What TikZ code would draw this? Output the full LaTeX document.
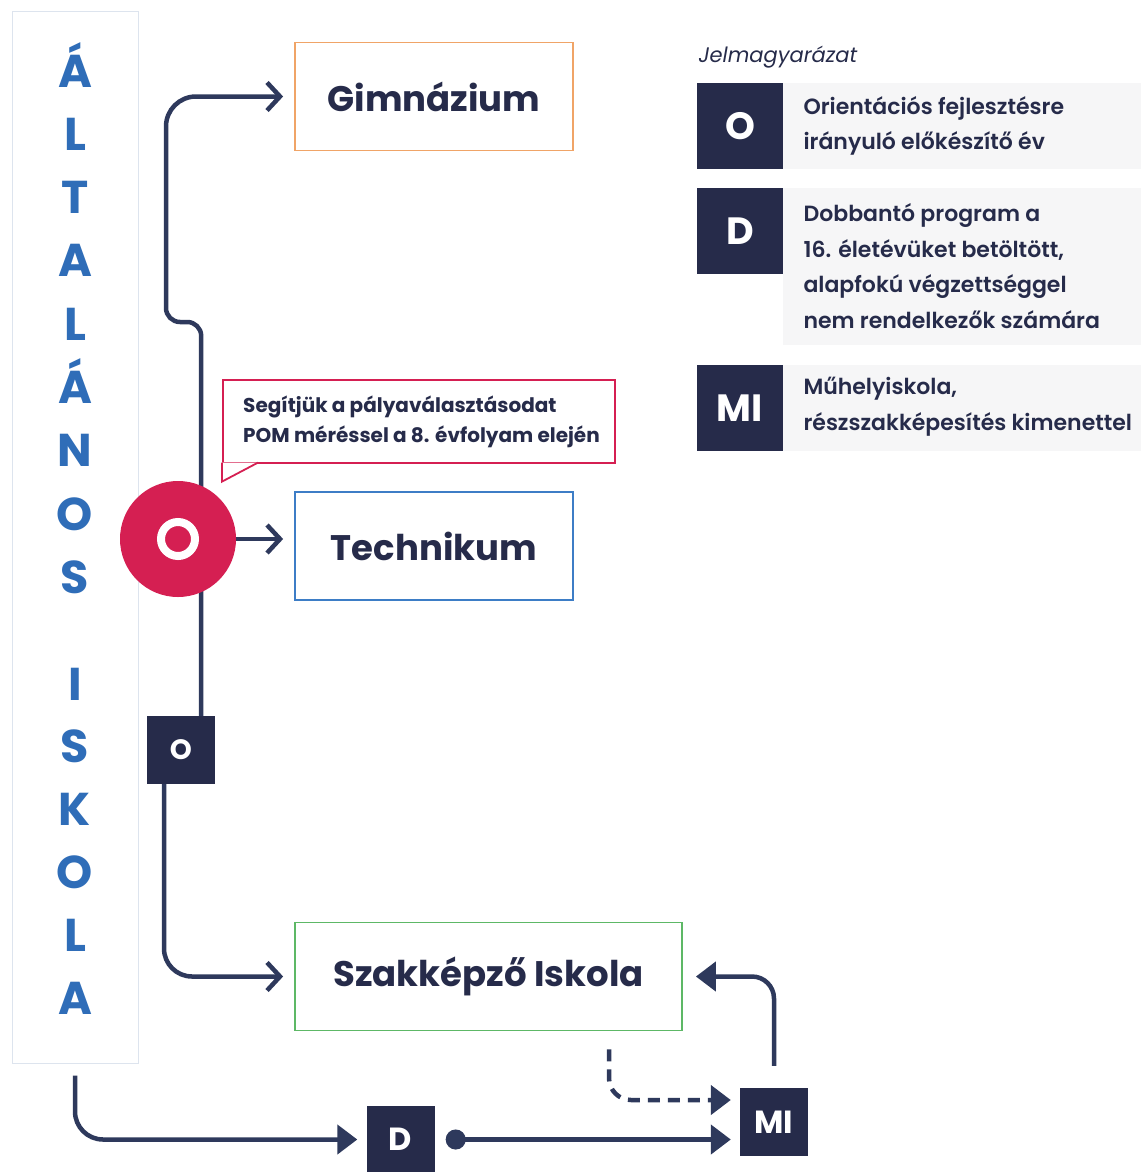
\documentclass[tikz,border=0pt]{standalone}
\usepackage{fontspec}
\setmainfont{Poppins}
\newfontfamily\semifont{Poppins}[UprightFont=* SemiBold, ItalicFont=* Italic]
\usetikzlibrary{arrows.meta,positioning}
\pgfdeclarelayer{background}
\pgfsetlayers{background,main}

\definecolor{navy}{HTML}{262B4A}
\definecolor{linenavy}{HTML}{2E395C}
\definecolor{letterblue}{HTML}{2F6DB8}
\definecolor{pomred}{HTML}{D51F52}
\definecolor{gimorange}{HTML}{F0A467}
\definecolor{techblue}{HTML}{3D7DC6}
\definecolor{szakgreen}{HTML}{5DB866}
\definecolor{panelgray}{HTML}{F6F6F7}
\definecolor{boxline}{HTML}{DDE4EE}

\begin{document}
\begin{tikzpicture}[x=1pt,y=-1pt,
    school/.style={draw,line width=1.8pt,fill=white,minimum height=108pt,
      text=navy,font=\fontsize{35.5}{40}\selectfont\bfseries},
    sqbox/.style={fill=navy,text=white,minimum size=68pt,inner sep=0pt,
      font=\fontsize{32}{36}\selectfont\bfseries},
    legbox/.style={sqbox,minimum size=86pt,font=\fontsize{38}{40}\selectfont\bfseries},
    legtext/.style={anchor=west,align=left,text=navy,
      font=\semifont\fontsize{22}{35.7}\selectfont},
    panel/.style={fill=panelgray,anchor=west,minimum height=86pt,
      minimum width=358pt,inner sep=0pt},
    letter/.style={anchor=base,text=letterblue,font=\fontsize{46}{46}\selectfont\bfseries},
    flow/.style={draw=linenavy,line width=4.5pt},
    barb/.style={-{Straight Barb[length=13pt,width=28pt,line width=4.5pt]}},
    tri/.style={-{Triangle[length=20pt,width=29pt]}}]
  \useasboundingbox (0,0) rectangle (1141,1172);

  % left column
  \node[draw=boxline,line width=1pt,fill=white,minimum width=126pt,
    minimum height=1051pt,inner sep=0pt] (elem) at (75,537.5) {};
  \foreach \l [count=\n from 0] in {Á,L,T,A,L,Á,N,O,S}
    \node[letter] (top\n) at (75,87+63.3*\n) {\l};
  \foreach \l [count=\n from 0] in {I,S,K,O,L,A}
    \node[letter] (bot\n) at (75,700+62.8*\n) {\l};

  % schools
  \node[school,draw=gimorange,minimum width=278pt] (gimn) at (434,96.5) {Gimnázium};
  \node[school,draw=techblue,minimum width=278pt] (tech) at (434,546) {Technikum};
  \node[school,draw=szakgreen,minimum width=387pt] (szak) at (488.5,976.5) {Szakképző Iskola};

  % POM note
  \node[draw=pomred,line width=1.8pt,fill=white,anchor=north west,
    minimum width=392pt,minimum height=83pt] (note) at (222,379) {};
  \node[anchor=west,align=left,inner sep=0pt,text=navy,
    font=\fontsize{20}{30}\selectfont\bfseries] (notetext) at ([xshift=21pt]note.west)
    {Segítjük a pályaválasztásodat\\POM méréssel a 8. évfolyam elején};
  \draw[pomred,line width=1.8pt,fill=white] ([yshift=1.2pt]note.south west)
    -- ++(0,19) -- ([xshift=36pt,yshift=1.2pt]note.south west);

  \node[circle,fill=pomred,minimum size=116pt,inner sep=0pt] (pom) at (178,539) {};
  \node[circle,draw=white,line width=8pt,minimum size=34pt,inner sep=0pt] (pomring) at (pom) {};

  % markers on the paths
  \node[sqbox,font=\fontsize{28}{30}\selectfont\bfseries] (osq) at (181,750) {O};
  \node[sqbox] (dsq) at (400.5,1139.5) {D};
  \node[sqbox] (misq) at (774,1122) {MI};

  % legend
  \node[anchor=west,text=navy,font=\semifont\itshape\fontsize{21}{23}\selectfont]
    (legtitle) at (695,57) {Jelmagyarázat};
  \node[legbox] (lego) at (740,126) {O};
  \node[legbox] (legd) at (740,231) {D};
  \node[legbox] (legmi) at (740,408) {MI};
  \node[panel] (pano) at (lego.east) {};
  \node[panel,anchor=north west,minimum height=157pt] (pand) at (legd.north east) {};
  \node[panel] (panmi) at (legmi.east) {};
  \node[legtext] (txto) at (800,126) {Orientációs fejlesztésre\\irányuló előkészítő év};
  \node[legtext] (txtd) at (800,266) {Dobbantó program a\\16. életévüket betöltött,\\alapfokú végzettséggel\\nem rendelkezők számára};
  \node[legtext] (txtmi) at (800,407) {Műhelyiskola,\\részszakképesítés kimenettel};

  \coordinate (jog) at (166,322);
  \begin{pgfonlayer}{background}
    \fill[white] (0,0) rectangle (1141,1172);
    % paths
    \draw[flow,barb,rounded corners=14pt] ([xshift=-14pt]osq.north east) |- (jog)
      [rounded corners=30pt] |- ([xshift=-11pt]gimn.west);
    \draw[flow,barb] (pom.east) -- ([xshift=-11pt]pom.east -| tech.west);
    \draw[flow,barb,rounded corners=28pt] ([xshift=-17pt]osq.south) |- ([xshift=-11pt]szak.west);
    \draw[flow,tri,rounded corners=28pt] ([yshift=-12pt]elem.south) |- ([xshift=-9pt]dsq.west);
    \draw[flow,{Circle[length=20pt]}-{Triangle[length=20pt,width=29pt]}]
      ([xshift=11pt]dsq.east) -- ([xshift=-9pt]dsq.east -| misq.west);
    \draw[flow,dash pattern=on 12pt off 8pt,tri,rounded corners=22pt]
      ([xshift=120.5pt,yshift=-18pt]szak.south) |- ([xshift=-9pt,yshift=22pt]misq.west);
    \draw[flow,tri,rounded corners=22pt] ([yshift=22pt]misq.north) |- ([xshift=13pt]szak.east);
  \end{pgfonlayer}
\end{tikzpicture}
\end{document}
